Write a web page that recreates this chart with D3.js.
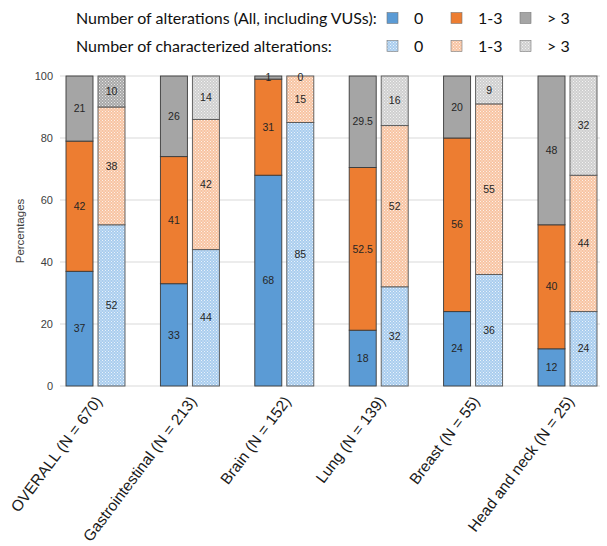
<!DOCTYPE html>
<html><head><meta charset="utf-8">
<script src="https://cdn.jsdelivr.net/npm/d3@7"></script>
<style>body{margin:0;background:#fff}svg{display:block}</style>
</head><body>
<svg id="c" width="607" height="546"></svg>
<script>
const categories = ["OVERALL (N = 670)","Gastrointestinal (N = 213)","Brain (N = 152)","Lung (N = 139)","Breast (N = 55)","Head and neck (N = 25)"];
const groups = ["0","1-3","> 3"];
const allZero  = [37, 33, 68, 18, 24, 12];
const allMid   = [42, 41, 31, 52.5, 56, 40];
const allHigh  = [21, 26, 1, 29.5, 20, 48];
const charZero = [52, 44, 85, 32, 36, 24];
const charMid  = [38, 42, 15, 52, 55, 44];
const charHigh = [10, 14, 0, 16, 9, 32];
const yTicks = [0, 20, 40, 60, 80, 100];

const svg = d3.select("#c");
const solid = ["#5B9BD5", "#ED7D31", "#A5A5A5"];
const light = ["#A9CDEE", "#F7C4A2", "#CFCFCF"];
const arial = "'Liberation Sans', Arial, sans-serif";

const defs = svg.append("defs");
light.forEach((c, i) => {
  const p = defs.append("pattern").attr("id", "pat" + i).attr("patternUnits", "userSpaceOnUse")
    .attr("width", 3).attr("height", 3);
  p.append("rect").attr("width", 3).attr("height", 3).attr("fill", c);
  p.append("rect").attr("x", 0).attr("y", 0).attr("width", 1).attr("height", 1).attr("fill", "#fff").attr("opacity", 0.75);
  p.append("rect").attr("x", 1.5).attr("y", 1.5).attr("width", 1).attr("height", 1).attr("fill", "#fff").attr("opacity", 0.75);
});
{
  const p = defs.append("pattern").attr("id", "patDark").attr("patternUnits", "userSpaceOnUse").attr("width", 3).attr("height", 3);
  p.append("rect").attr("width", 3).attr("height", 3).attr("fill", "#A8A8A8");
  p.append("rect").attr("x", 0).attr("y", 0).attr("width", 1).attr("height", 1).attr("fill", "#e8e8e8");
  p.append("rect").attr("x", 1.5).attr("y", 1.5).attr("width", 1).attr("height", 1).attr("fill", "#e8e8e8");
}

const x = d3.scaleBand().domain(categories).range([48.3, 614.7]);
const bw = x.bandwidth();
const xs = d3.scaleBand().domain(["all", "char"]).range([bw / 2 - 29.5, bw / 2 + 29.5]).paddingInner(0.15625);
const y = d3.scaleLinear().domain([0, 100]).range([386, 76]);

// grid
svg.append("g").selectAll("line").data(yTicks).join("line")
  .attr("x1", 60).attr("x2", 600).attr("y1", d => y(d)).attr("y2", d => y(d))
  .attr("stroke", "#D9D9D9").attr("stroke-width", 1);

// y axis
const ya = svg.append("g").attr("transform", "translate(57,0)")
  .call(d3.axisLeft(y).tickValues(yTicks).tickSize(0).tickPadding(4));
ya.select(".domain").remove();
ya.selectAll("text").attr("font-family", arial).attr("font-size", 11).attr("fill", "#404040");

svg.append("text").attr("transform", "translate(20,231) rotate(-90)")
  .attr("text-anchor", "middle").attr("font-family", arial)
  .attr("font-size", 11.5).attr("fill", "#404040").attr("dy", "0.35em").text("Percentages");

// bars
const series = [
  { key: "all", vals: [allZero, allMid, allHigh] },
  { key: "char", vals: [charZero, charMid, charHigh] }
];
const segs = [];
categories.forEach((cat, ci) => {
  series.forEach(s => {
    let base = 0;
    s.vals.forEach((arr, gi) => {
      const v = arr[ci];
      segs.push({ cat, ci, key: s.key, gi, y0: base, y1: base + v, v });
      base += v;
    });
  });
});
const fillOf = d => d.key === "all" ? solid[d.gi] : (d.ci === 0 && d.gi === 2 ? "url(#patDark)" : "url(#pat" + d.gi + ")");
svg.append("g").selectAll("rect").data(segs).join("rect")
  .attr("x", d => x(d.cat) + xs(d.key))
  .attr("width", xs.bandwidth())
  .attr("y", d => y(d.y1))
  .attr("height", d => y(d.y0) - y(d.y1))
  .attr("fill", fillOf)
  .attr("stroke", d => d.key === "all" ? "#3a3a3a" : "#555")
  .attr("stroke-width", 0.9);

svg.append("g").selectAll("text").data(segs).join("text")
  .attr("x", d => x(d.cat) + xs(d.key) + xs.bandwidth() / 2)
  .attr("y", d => d.v < 3 ? y(d.y1) + 1 : y((d.y0 + d.y1) / 2))
  .attr("dy", "0.35em").attr("text-anchor", "middle")
  .attr("font-family", arial).attr("font-size", 10.5)
  .attr("fill", "#262626").text(d => d.v);

// category labels
svg.append("g").selectAll("text").data(categories).join("text")
  .attr("transform", d => `translate(${x(d) + bw / 2 + 3},398) rotate(-53)`)
  .attr("text-anchor", "end").attr("dy", "0.35em")
  .attr("font-family", arial).attr("font-size", 15.5)
  .attr("fill", "#1a1a1a").text(d => d);

// legend
const legFont = "Lato, 'Open Sans', sans-serif";
const legRows = [
  { label: "Number of alterations (All, including VUSs):", y: 18, fill: i => solid[i] },
  { label: "Number of characterized alterations:", y: 46, fill: i => "url(#pat" + i + ")" }
];
const legX = [387, 451, 520];
legRows.forEach(r => {
  svg.append("text").attr("x", 76).attr("y", r.y).attr("dy", "0.35em")
    .attr("font-family", legFont).attr("font-size", 16).attr("fill", "#111").text(r.label);
  groups.forEach((g, i) => {
    svg.append("rect").attr("x", legX[i]).attr("y", r.y - 5.5).attr("width", 11).attr("height", 11)
      .attr("fill", r.fill(i)).attr("stroke", "#777").attr("stroke-width", 0.6);
    svg.append("text").attr("x", legX[i] + 27).attr("y", r.y).attr("dy", "0.35em")
      .attr("font-family", legFont).attr("font-size", 16).attr("fill", "#111").text(g);
  });
});
</script>
</body></html>
